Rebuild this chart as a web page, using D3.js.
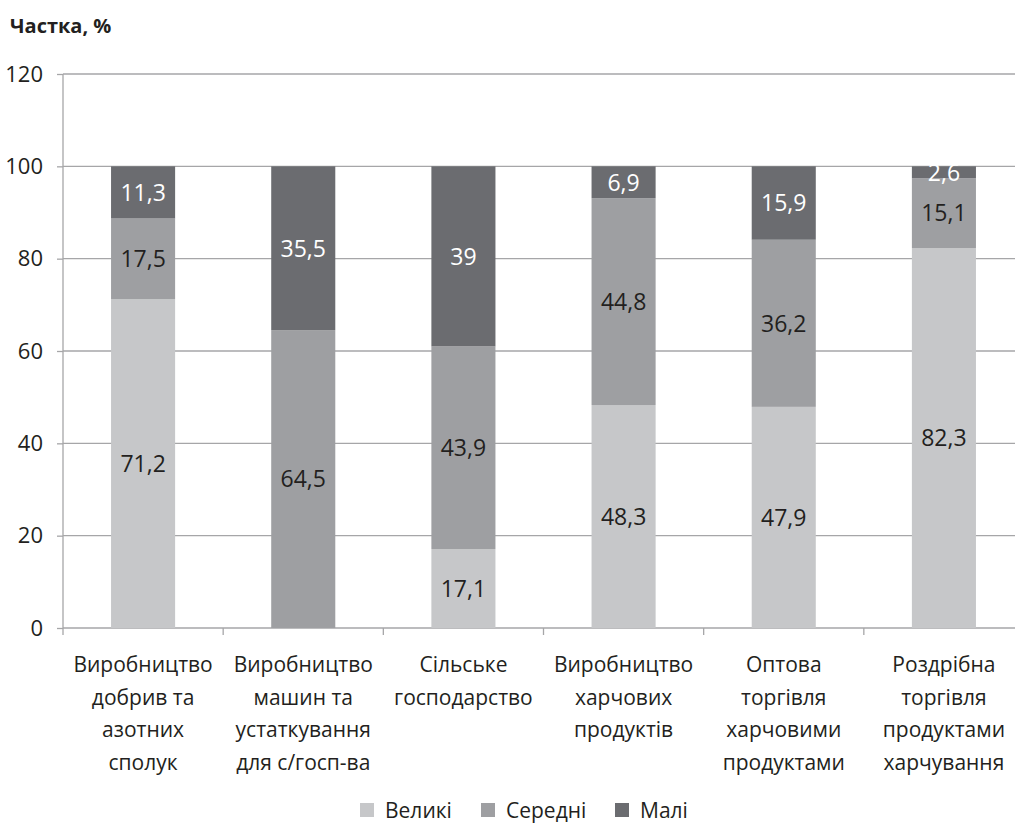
<!DOCTYPE html>
<html><head><meta charset="utf-8">
<script src="https://cdn.jsdelivr.net/npm/d3@7"></script>
<style>body{margin:0;background:#fff;} svg{display:block;}</style>
</head><body>
<svg id="c" width="1015" height="828"></svg>
<script>
const categories = [
  ["Виробництво","добрив та","азотних","сполук"],
  ["Виробництво","машин та","устаткування","для с/госп-ва"],
  ["Сільське","господарство"],
  ["Виробництво","харчових","продуктів"],
  ["Оптова","торгівля","харчовими","продуктами"],
  ["Роздрібна","торгівля","продуктами","харчування"]
];
const seriesNames = ["Великі","Середні","Малі"];
const large  = [71.2, 0, 17.1, 48.3, 47.9, 82.3];
const medium = [17.5, 64.5, 43.9, 44.8, 36.2, 15.1];
const small  = [11.3, 35.5, 39, 6.9, 15.9, 2.6];
const yTicks = [0,20,40,60,80,100,120];
const colors = ["#c6c7c9","#9e9fa2","#6b6c70"];
const labelColors = ["#231f20","#231f20","#ffffff"];

(function(){
const font = "'Open Sans', 'Noto Sans', sans-serif";
const svg = d3.select("#c");
const pL = 63, pR = 1024, pT = 74, pB = 628;

const x = d3.scaleBand().domain(d3.range(categories.length)).range([pL, pR]).paddingInner(0.6).paddingOuter(0.3);
const y = d3.scaleLinear().domain([0,120]).range([pB, pT]);

svg.append("g").selectAll("line").data(yTicks).join("line")
  .attr("x1", pL).attr("x2", pR)
  .attr("y1", d => y(d)).attr("y2", d => y(d))
  .attr("stroke", "#a6a6a8").attr("stroke-width", 1.3);

const rows = categories.map((c,i) => ({i, v:[large[i], medium[i], small[i]]}));
const stacked = d3.stack().keys([0,1,2]).value((d,k) => d.v[k])(rows);

const g = svg.append("g");
stacked.forEach((layer, k) => {
  g.append("g").selectAll("rect").data(layer).join("rect")
    .attr("x", d => x(d.data.i))
    .attr("width", x.bandwidth())
    .attr("y", d => y(d[1]))
    .attr("height", d => y(d[0]) - y(d[1]))
    .attr("fill", colors[k]);
});
stacked.forEach((layer, k) => {
  g.append("g").selectAll("text").data(layer.filter(d => d[1]-d[0] > 0)).join("text")
    .attr("x", d => x(d.data.i) + x.bandwidth()/2)
    .attr("y", d => y((d[0]+d[1])/2))
    .attr("dy", "0.36em")
    .attr("text-anchor", "middle")
    .attr("font-family", font).attr("font-size", 23)
    .attr("fill", labelColors[k])
    .text(d => String(+(d[1]-d[0]).toFixed(1)).replace(".", ","));
});

const yAxis = d3.axisLeft(y).tickValues(yTicks).tickSize(6).tickPadding(14);
const ya = svg.append("g").attr("transform", `translate(${pL},0)`).call(yAxis);
ya.select(".domain").attr("stroke", "#a6a6a8").attr("stroke-width", 1.3).attr("d", `M0,${pT}V${pB}`);
ya.selectAll(".tick line").attr("stroke", "#a6a6a8").attr("stroke-width", 1.3);
ya.selectAll(".tick text").attr("font-family", font).attr("font-size", 22).attr("fill", "#231f20");

svg.append("g").selectAll("line").data(d3.range(categories.length+1)).join("line")
  .attr("x1", i => pL + i*x.step())
  .attr("x2", i => pL + i*x.step())
  .attr("y1", pB).attr("y2", pB + 7)
  .attr("stroke", "#a6a6a8").attr("stroke-width", 1.3);

const cl = svg.append("g").selectAll("text").data(categories).join("text")
  .attr("text-anchor", "middle")
  .attr("font-family", font).attr("font-size", 21).attr("fill", "#231f20")
  .attr("transform", (d,i) => `translate(${x(i) + x.bandwidth()/2},672)`);
cl.selectAll("tspan").data(d => d).join("tspan")
  .attr("x", 0).attr("dy", (d,j) => j === 0 ? 0 : 32.5)
  .text(d => d);

svg.append("text").attr("x", 10).attr("y", 33)
  .attr("font-family", font).attr("font-size", 20).attr("font-weight", "bold")
  .attr("fill", "#231f20").text("Частка, %");

const legX = [360, 481, 615];
const lg = svg.append("g").selectAll("g").data(seriesNames).join("g")
  .attr("transform", (d,i) => `translate(${legX[i]},803)`);
lg.append("rect").attr("width", 14).attr("height", 14).attr("fill", (d,i) => colors[i]);
lg.append("text").attr("x", 25).attr("y", 7).attr("dy", "0.36em")
  .attr("font-family", font).attr("font-size", 21).attr("fill", "#231f20")
  .text(d => d);
})();
</script>
</body></html>
